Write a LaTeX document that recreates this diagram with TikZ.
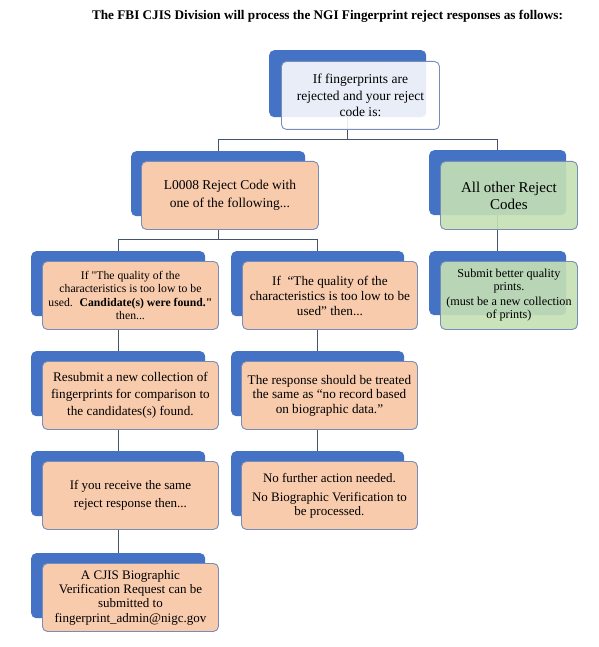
\documentclass[tikz,border=0pt]{standalone}
\usepackage{fontspec}
\setmainfont{Liberation Serif}
\usetikzlibrary{calc}
\definecolor{bblue}{HTML}{4472C4}
\definecolor{peach}{HTML}{F8CBAD}
\definecolor{lgreen}{HTML}{C5E0B4}
\definecolor{bord}{RGB}{120,140,185}
\definecolor{connc}{RGB}{68,84,106}
\newcommand{\fs}[2]{\fontsize{#1pt}{#2pt}\selectfont}
\newcommand{\sq}{\XeTeXglyph\XeTeXcharglyph"22\relax}
\begin{document}
\begin{tikzpicture}[x=1pt,y=-1pt,
  back/.style={fill=bblue, rounded corners=5pt, anchor=north west, minimum width=174pt, minimum height=65pt, inner sep=0pt},
  front/.style={draw=bord, line width=0.9pt, rounded corners=5pt, anchor=north west, minimum width=176pt, minimum height=68pt, inner sep=0pt, align=center, fill=peach},
  greenbox/.style={front, fill=lgreen, fill opacity=0.9, text opacity=1, minimum width=137pt},
  conn/.style={draw=connc, line width=0.8pt},
]
\fill[white] (0,0) rectangle (598,647);
\useasboundingbox (0,0) rectangle (598,647);

% title
\node[anchor=base, font=\bfseries\fs{13.2}{15}] (title) at (327.5,20) {The FBI CJIS Division will process the NGI Fingerprint reject responses as follows:};

% back boxes
\node[back, minimum width=157pt, minimum height=67pt] (b0) at (269,50) {};
\node[back] (b1) at (131,151) {};
\node[back, minimum width=137pt] (b2) at (429,150) {};
\node[back] (b3) at (31,251) {};
\node[back, minimum width=173pt] (b4) at (231,251) {};
\node[back, minimum width=137pt, minimum height=64pt] (b5) at (429,251) {};
\node[back] (b6) at (31,351) {};
\node[back, minimum width=173pt] (b7) at (231,351) {};
\node[back] (b8) at (31,451) {};
\node[back, minimum width=173pt] (b9) at (231,451) {};
\node[back] (b10) at (31,553) {};

% connectors
\draw[conn] (b0.south) -- ++(0,22) coordinate (j0);
\draw[conn] (j0) -| (b1.north);
\draw[conn] (j0) -| (b2.north);
\draw[conn] (b1.south) -- ++(0,23) coordinate (j1);
\draw[conn] (j1) -| (b3.north);
\draw[conn] (j1) -| (b4.north);
\draw[conn] (b2.south) -- (b5.north);
\draw[conn] (b3.south) -- (b6.north);
\draw[conn] (b4.south) -- (b7.north);
\draw[conn] (b6.south) -- (b8.north);
\draw[conn] (b7.south) -- (b9.north);
\draw[conn] (b8.south) -- (b10.north);

% front boxes
\node[front, fill=white, fill opacity=0.88, text opacity=1, minimum width=158pt, font=\fs{13.5}{16.5}] (f0) at (281,61)
  {If fingerprints are\\rejected and your reject\\code is:};
\node[front, minimum width=177pt, font=\fs{13.5}{18}] (f1) at (141,161)
  {L0008 Reject Code with\\one of the following...};
\node[greenbox, font=\fs{15}{17}] (f2) at (440,161)
  {All other Reject\\Codes};
\node[front, font=\fs{11.7}{13.5}] (f3) at (42,261)
  {If \sq The quality of the\\characteristics is too low to be\\used.~ \textbf{Candidate(s) were found.\sq}\\then...};
\node[front, minimum width=175pt, font=\fs{13.2}{15}] (f4) at (242,261)
  {If~ “The quality of the\\characteristics is too low to be\\used” then...};
\node[greenbox, font=\fs{12.2}{13}] (f5) at (440,261)
  {Submit better quality\\prints.\\[2pt](must be a new collection\\of prints)};
\node[front, font=\fs{13.2}{17}] (f6) at (42,361)
  {Resubmit a new collection of\\fingerprints for comparison to\\the candidates(s) found.};
\node[front, font=\fs{13.2}{14.5}] (f7) at (241,361)
  {The response should be treated\\the same as “no record based\\on biographic data.”};
\node[front, font=\fs{13}{18}] (f8) at (42,461)
  {If you receive the same\\reject response then...};
\node[front, font=\fs{13}{14}] (f9) at (241,461)
  {No further action needed.\\[5pt]No Biographic Verification to\\be processed.};
\node[front, font=\fs{13}{14.3}] (f10) at (42,563)
  {A CJIS Biographic\\Verification Request can be\\submitted to\\fingerprint\_admin@nigc.gov};
\end{tikzpicture}
\end{document}
